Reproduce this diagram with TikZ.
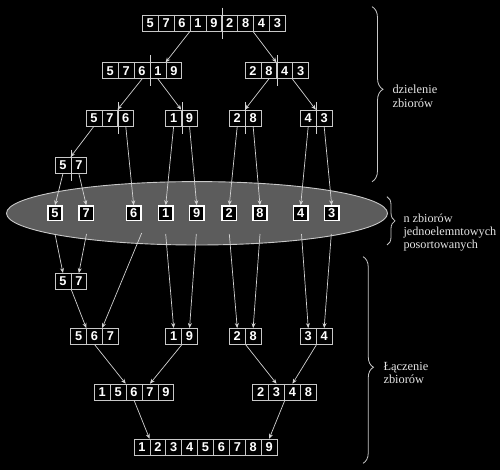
\documentclass[tikz,border=0pt]{standalone}
\usepackage{fontspec}
\setmainfont{Liberation Serif}
\newfontfamily\digitfont{Liberation Sans}
\usetikzlibrary{arrows.meta,calc,decorations.pathreplacing}
\definecolor{ln}{HTML}{D2D2D2}
\definecolor{bd}{HTML}{C8C8C8}
\definecolor{elf}{HTML}{5C5C5C}
\definecolor{txt}{HTML}{E4E4E4}
\tikzset{
 cell/.style={draw=bd, line width=0.7pt, minimum width=15.9pt, minimum height=15.8pt, inner sep=0pt, text=white, font=\digitfont\bfseries\fontsize{12.8}{13}\selectfont},
 single/.style={cell, draw=white, line width=1.6pt, fill=black, minimum width=14.4pt, minimum height=14.4pt},
 conn/.style={draw=ln, line width=0.7pt, -{Stealth[length=5pt,width=4pt]}},
 divline/.style={draw=ln, line width=0.7pt},
 lbl/.style={text=txt, align=left, inner sep=0pt, anchor=base west},
 brc/.style={draw=bd, line width=0.8pt, decorate, decoration={brace, amplitude=#1}},
}
\newcommand\drawarr[4]{%
 \foreach \d [count=\i] in {#4} \node[cell] (#1-\i) at ({#2+(\i-0.5)*15.9},#3) {\d};}
\begin{document}
\begin{tikzpicture}[x=1pt,y=-1pt]
\fill[black] (0,0) rectangle (500,470);
\useasboundingbox (0,0) rectangle (500,470);
% ellipse of singletons
\draw[draw=bd, fill=elf, line width=0.9pt] (197,213.3) ellipse [x radius=190.5, y radius=31.7];
% arrays
\drawarr{T}{142.3}{23.5}{5,7,6,1,9,2,8,4,3}
\drawarr{La}{102.3}{70.7}{5,7,6,1,9}
\drawarr{Lb}{245}{70.7}{2,8,4,3}
\drawarr{Ma}{86}{118}{5,7,6}
\drawarr{Mb}{165.7}{118}{1,9}
\drawarr{Mc}{229.3}{118}{2,8}
\drawarr{Md}{300.3}{118}{4,3}
\drawarr{P}{55}{165.3}{5,7}
\node[single] (s5) at (55,213.3) {5};
\node[single] (s7) at (86.3,213.3) {7};
\node[single] (s6) at (133.7,213.3) {6};
\node[single] (s1) at (165.7,213.3) {1};
\node[single] (s9) at (196.7,213.3) {9};
\node[single] (s2) at (229.3,213.3) {2};
\node[single] (s8) at (260,213.3) {8};
\node[single] (s4) at (300.7,213.3) {4};
\node[single] (s3) at (331.7,213.3) {3};
\drawarr{Q}{55}{281.3}{5,7}
\drawarr{Ra}{70.7}{336.3}{5,6,7}
\drawarr{Rb}{165.7}{336.3}{1,9}
\drawarr{Rc}{229.3}{336.3}{2,8}
\drawarr{Rd}{300.3}{336.3}{3,4}
\drawarr{Ua}{94.3}{392}{1,5,6,7,9}
\drawarr{Ub}{252.7}{392}{2,3,4,8}
\drawarr{F}{134}{447}{1,2,3,4,5,6,7,8,9}
% dividers
\foreach \n in {T-5, La-3, Lb-2, Ma-2, Mb-1, Mc-1, Md-1, P-1}
  \draw[divline] ($(\n.north east)+(0,-7.5)$) -- ($(\n.south east)+(0,7.5)$);
% dividing arrows
\draw[conn] (T-4.south west) -- (La-5.north west);
\draw[conn] (T-8.south west) -- (Lb-3.north west);
\draw[conn] (La-3.south) -- (Ma-3.north west);
\draw[conn] (La-4.south) -- (Mb-2.north west);
\draw[conn] (Lb-2.south) -- (Mc-2.north west);
\draw[conn] (Lb-4.south west) -- (Md-2.north west);
\draw[conn] (Ma-1.south) -- (P-2.north west);
\draw[conn] (P-1.south) -- (s5.north);
\draw[conn] (P-2.south) -- (s7.north);
\draw[conn] (Ma-3.south) -- (s6.north);
\draw[conn] (Mb-1.south) -- (s1.north);
\draw[conn] (Mb-2.south) -- (s9.north);
\draw[conn] (Mc-1.south) -- (s2.north);
\draw[conn] (Mc-2.south) -- (s8.north);
\draw[conn] (Md-1.south) -- (s4.north);
\draw[conn] (Md-2.south) -- (s3.north);
% merging arrows
\coordinate (c5) at (55,234);
\coordinate (c7) at (86.5,234);
\coordinate (c6) at (141.7,233);
\coordinate (c1) at (165.7,234);
\coordinate (c9) at (196.3,234);
\coordinate (c2) at (229.3,234);
\coordinate (c8) at (260,234);
\coordinate (c4) at (301.5,234);
\coordinate (c3) at (331.3,234);
\draw[conn] (c5) -- (Q-1.north);
\draw[conn] (c7) -- (Q-2.north);
\draw[conn] (c6) -- (Ra-3.north west);
\draw[conn] (c1) -- (Rb-1.north);
\draw[conn] (c9) -- (Rb-2.north);
\draw[conn] (c2) -- (Rc-1.north);
\draw[conn] (c8) -- (Rc-2.north);
\draw[conn] (c4) -- (Rd-1.north);
\draw[conn] (c3) -- (Rd-2.north);
\draw[conn] (Q-1.south east) -- (Ra-2.north west);
\draw[conn] (Ra-2.south) -- (Ua-3.north west);
\draw[conn] (Rb-1.south east) -- (Ua-4.north);
\draw[conn] (Rc-1.south east) -- (Ub-2.north);
\draw[conn] (Rd-1.south east) -- (Ub-3.north);
\draw[conn] (Ua-3.south) -- (F-2.north west);
\draw[conn] (Ub-2.south east) -- (F-9.north);
% braces
\draw[brc=11pt, decoration={aspect=0.472}] (372,6.7) -- (372,181.7);
\draw[brc=8pt] (387,196.7) -- (387,245);
\draw[brc=10.5pt, decoration={aspect=0.535}] (363,256.7) -- (363,463.3);
% labels (anchored at the baseline of the last line)
\node[lbl, font=\fontsize{12.4}{14.4}\selectfont] (t1) at (392.3,107.7) {dzielenie\\zbiorów};
\node[lbl, font=\fontsize{12.2}{13}\selectfont] (t2) at (403.3,248.3) {n zbiorów\\jednoelemntowych\\posortowanych};
\node[lbl, font=\fontsize{12.4}{12.7}\selectfont] (t3) at (383.3,383.3) {Łączenie\\zbiorów};
\end{tikzpicture}
\end{document}
